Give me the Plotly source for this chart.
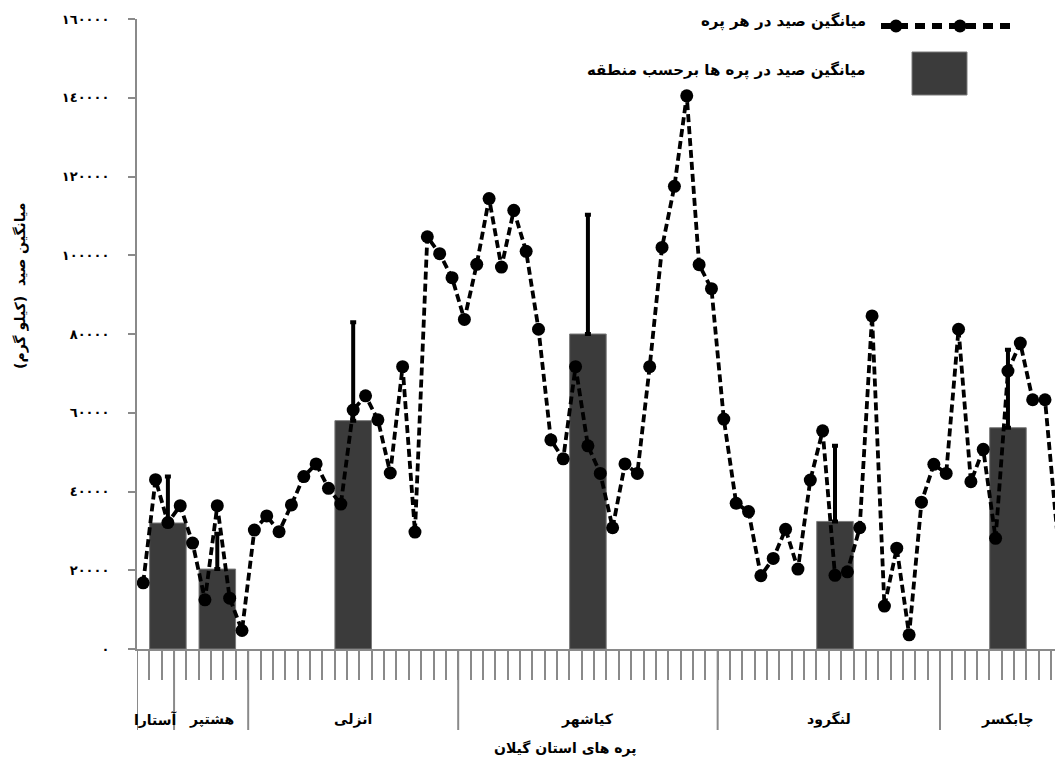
import plotly.graph_objects as go

# Mean catch per beach-seine station (kg), stations ordered west -> east
station_catch = [
    16800, 43000, 32100,                                   # آستارا
    36400, 26900, 12500, 36400, 12900, 4700,               # هشتپر
    30200, 33800, 29800, 36600, 43800, 47000, 40800, 36800,
    60700, 64300, 58200, 44700, 71700, 29700, 104700, 100400, 94300,  # انزلی
    83700, 97700, 114400, 97000, 111400, 101000, 81200, 53100, 48300,
    71700, 51600, 44600, 30800, 47000, 44600, 71700, 102000, 117500,
    140500, 97600, 91500,                                  # کیاشهر
    58400, 37000, 34900, 18600, 23000, 30400, 20300, 42900, 55400,
    18700, 19600, 30800, 84600, 10900, 25600, 3600, 37300, 46900,  # لنگرود
    44600, 81200, 42500, 50700, 28100, 70600, 77700, 63300, 63300, 29000,  # چابکسر
]

# Regions along the Guilan coast and the number of stations in each
regions = ["آستارا", "هشتپر", "انزلی", "کیاشهر", "لنگرود", "چابکسر"]
region_counts = [3, 6, 17, 21, 18, 11]

# Regional mean catch, its deviation, and the station slot each bar sits on
region_mean = [32000, 20300, 58000, 80000, 32400, 56200]
region_err = [11800, 9000, 25000, 30300, 19200, 19800]
region_bar_station = [2, 6, 17, 36, 56, 70]

y_ticks = [0, 20000, 40000, 60000, 80000, 100000, 120000, 140000, 160000]

AR_DIGITS = str.maketrans("0123456789", "٠١٢٣٤٥٦٧٨٩")


def to_arabic_digits(v):
    return str(v).translate(AR_DIGITS)


FONT = "DejaVu Sans"
BAR_COLOR = "#3b3b3b"
AXIS_GRAY = "#8a8a8a"

n_total = sum(region_counts)
stations = list(range(len(station_catch)))

fig = go.Figure()

fig.add_trace(go.Bar(
    x=region_bar_station,
    y=region_mean,
    width=2.96,
    marker=dict(color=BAR_COLOR, line=dict(color="#7a7a7a", width=1)),
    error_y=dict(type="data", array=region_err, symmetric=False,
                 arrayminus=[0] * len(region_err),
                 color="black", thickness=4, width=3),
    showlegend=False,
))

fig.add_trace(go.Scatter(
    x=stations,
    y=station_catch,
    mode="lines+markers",
    line=dict(color="black", width=3.8, dash="8px,4px"),
    marker=dict(color="black", size=13, symbol="circle"),
    cliponaxis=False,
    showlegend=False,
))

# Region boundaries and labels under the station ticks
shapes = []
annotations = []
start = 0
boundaries = [-0.5]
for name, cnt in zip(regions, region_counts):
    end = start + cnt
    boundaries.append(end - 0.5)
    annotations.append(dict(
        x=(start + end - 1) / 2, y=-70 / 630, xref="x", yref="paper",
        text=f"<b>{name}</b>", showarrow=False,
        font=dict(family=FONT, size=14, color="black"),
        xanchor="center", yanchor="middle",
    ))
    start = end

for b in boundaries:
    shapes.append(dict(type="line", xref="x", yref="paper",
                       x0=b, x1=b, y0=0, y1=-81 / 630,
                       line=dict(color=AXIS_GRAY, width=2), layer="above"))

minor_ticks = [i - 0.5 for i in range(1, n_total + 1)]

# Axis titles
annotations.append(dict(
    x=(565 - 137) / 918, y=-100 / 630, xref="paper", yref="paper",
    text="<b>پره های استان گیلان</b>", showarrow=False,
    font=dict(family=FONT, size=14, color="black"),
    xanchor="center", yanchor="middle",
))
annotations.append(dict(
    x=(20 - 137) / 918, y=(649 - 286) / 630, xref="paper", yref="paper",
    text="<b>میانگین صید  (کیلو گرم)</b>", showarrow=False, textangle=-90,
    font=dict(family=FONT, size=14, color="black"),
    xanchor="center", yanchor="middle",
))

# Legend, drawn right-to-left: text then sample
annotations.append(dict(
    x=(868 - 137) / 918, y=(649 - 22) / 630, xref="paper", yref="paper",
    text="<b>میانگین صید در هر پره</b>", showarrow=False,
    font=dict(family=FONT, size=15, color="black"),
    xanchor="right", yanchor="middle",
))
annotations.append(dict(
    x=(868 - 137) / 918, y=(649 - 70) / 630, xref="paper", yref="paper",
    text="<b>میانگین صید در پره ها برحسب منطقه</b>", showarrow=False,
    font=dict(family=FONT, size=15, color="black"),
    xanchor="right", yanchor="middle",
))
leg_y = (649 - 26) / 630
shapes.append(dict(type="line", xref="paper", yref="paper",
                   x0=(881 - 137) / 918, x1=(1010 - 137) / 918,
                   y0=leg_y, y1=leg_y,
                   line=dict(color="black", width=6, dash="10px,7px")))
for cx in (896, 960):
    shapes.append(dict(type="circle", xref="paper", yref="paper",
                       xsizemode="pixel", ysizemode="pixel",
                       xanchor=(cx - 137) / 918, yanchor=leg_y,
                       x0=-6.5, x1=6.5, y0=-6.5, y1=6.5,
                       fillcolor="black", line=dict(color="black", width=0)))
shapes.append(dict(type="rect", xref="paper", yref="paper",
                   x0=(912 - 137) / 918, x1=(967 - 137) / 918,
                   y0=(649 - 95) / 630, y1=(649 - 52) / 630,
                   fillcolor=BAR_COLOR, line=dict(color="#7a7a7a", width=1)))

px_per_station = 12.354
x_right = -0.5 + 918 / px_per_station

fig.update_layout(
    width=1055, height=767,
    margin=dict(l=137, r=0, t=19, b=118),
    paper_bgcolor="white", plot_bgcolor="white",
    barmode="overlay",
    font=dict(family=FONT, color="black"),
    xaxis=dict(
        range=[-0.5, x_right], showgrid=False, zeroline=False,
        showline=True, linecolor=AXIS_GRAY, linewidth=2,
        tickmode="array", tickvals=minor_ticks, ticktext=[""] * len(minor_ticks),
        ticks="outside", ticklen=29, tickwidth=2, tickcolor=AXIS_GRAY,
        showticklabels=False,
    ),
    yaxis=dict(
        range=[0, 160000], showgrid=False, zeroline=False,
        showline=True, linecolor=AXIS_GRAY, linewidth=2,
        tickmode="array", tickvals=y_ticks,
        ticktext=[f"<b>{to_arabic_digits(v)}</b>" for v in y_ticks],
        ticks="outside", ticklen=7, tickwidth=2, tickcolor=AXIS_GRAY,
        ticklabelstandoff=16,
        tickfont=dict(family=FONT, size=13, color="black"),
    ),
    shapes=shapes,
    annotations=annotations,
)

fig.write_html("out.html")
